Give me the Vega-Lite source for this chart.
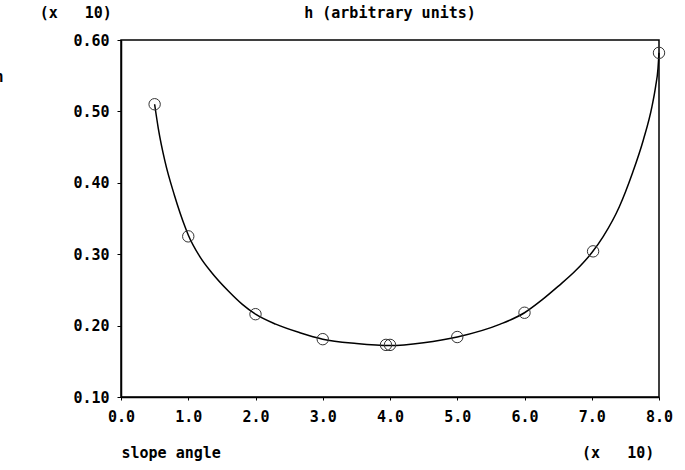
{
  "$schema": "https://vega.github.io/schema/vega-lite/v6.json",
  "width": 538,
  "height": 357,
  "autosize": {"type": "none"},
  "padding": {"left": 121, "top": 40, "right": 26, "bottom": 73},
  "background": "white",
  "config": {
    "font": "DejaVu Sans Mono",
    "view": {"stroke": "black", "strokeWidth": 1.5},
    "axis": {
      "grid": false,
      "domainColor": "black",
      "domainWidth": 1.5,
      "tickColor": "black",
      "tickWidth": 1,
      "labelFont": "DejaVu Sans Mono",
      "labelFontWeight": "bold",
      "labelFontSize": 15,
      "labelColor": "black",
      "titleFont": "DejaVu Sans Mono",
      "titleFontWeight": "bold",
      "titleFontSize": 15,
      "titleColor": "black"
    }
  },
  "title": {
    "text": "h (arbitrary units)",
    "anchor": "middle",
    "frame": "group",
    "font": "DejaVu Sans Mono",
    "fontSize": 15,
    "fontWeight": "bold",
    "color": "black",
    "offset": -16
  },
  "datasets": {
    "points": [
      {"angle": 0.5, "h": 0.51},
      {"angle": 1.0, "h": 0.325},
      {"angle": 2.0, "h": 0.216},
      {"angle": 3.0, "h": 0.181},
      {"angle": 3.94, "h": 0.173},
      {"angle": 4.0, "h": 0.173},
      {"angle": 5.0, "h": 0.184},
      {"angle": 6.0, "h": 0.218},
      {"angle": 7.02, "h": 0.304},
      {"angle": 8.0, "h": 0.582}
    ],
    "curve": [
      {"angle": 0.5, "h": 0.51},
      {"angle": 0.555, "h": 0.476},
      {"angle": 0.654, "h": 0.43},
      {"angle": 0.793, "h": 0.383},
      {"angle": 0.962, "h": 0.336},
      {"angle": 1.0, "h": 0.327},
      {"angle": 1.17, "h": 0.297},
      {"angle": 1.35, "h": 0.274},
      {"angle": 1.6, "h": 0.248},
      {"angle": 1.8, "h": 0.23},
      {"angle": 2.0, "h": 0.216},
      {"angle": 2.3, "h": 0.202},
      {"angle": 2.66, "h": 0.19},
      {"angle": 3.0, "h": 0.181},
      {"angle": 3.5, "h": 0.175},
      {"angle": 4.0, "h": 0.172},
      {"angle": 4.5, "h": 0.176},
      {"angle": 5.0, "h": 0.184},
      {"angle": 5.64, "h": 0.202},
      {"angle": 6.0, "h": 0.218},
      {"angle": 6.26, "h": 0.236},
      {"angle": 6.5, "h": 0.255},
      {"angle": 6.75, "h": 0.276},
      {"angle": 7.0, "h": 0.302},
      {"angle": 7.172, "h": 0.325},
      {"angle": 7.41, "h": 0.3665},
      {"angle": 7.603, "h": 0.413},
      {"angle": 7.767, "h": 0.46},
      {"angle": 7.896, "h": 0.507},
      {"angle": 7.95, "h": 0.535},
      {"angle": 7.985, "h": 0.56},
      {"angle": 8.0, "h": 0.582}
    ]
  },
  "layer": [
    {
      "data": {"name": "curve"},
      "mark": {"type": "line", "color": "black", "strokeWidth": 1.5, "interpolate": "monotone"},
      "encoding": {
        "x": {
          "field": "angle", "type": "quantitative",
          "scale": {"domain": [0, 8], "nice": false, "zero": false},
          "axis": {
            "values": [0, 1, 2, 3, 4, 5, 6, 7, 8],
            "format": ".1f",
            "tickSize": 3,
            "labelPadding": 9,
            "labelFlush": false,
            "title": "slope angle\u00a0\u00a0\u00a0\u00a0\u00a0\u00a0\u00a0\u00a0\u00a0\u00a0\u00a0\u00a0\u00a0\u00a0\u00a0\u00a0\u00a0\u00a0\u00a0\u00a0\u00a0\u00a0\u00a0\u00a0\u00a0\u00a0\u00a0\u00a0\u00a0\u00a0\u00a0\u00a0\u00a0\u00a0\u00a0\u00a0\u00a0\u00a0\u00a0\u00a0(x\u00a0\u00a0\u00a010)",
            "titleAnchor": "start",
            "titleAlign": "left",
            "titlePadding": 21
          }
        },
        "y": {
          "field": "h", "type": "quantitative",
          "scale": {"domain": [0.1, 0.6], "nice": false, "zero": false},
          "axis": {
            "values": [0.1, 0.2, 0.3, 0.4, 0.5, 0.6],
            "format": ".2f",
            "tickSize": 4,
            "labelPadding": 8,
            "labelFlush": false,
            "title": ["\u200b\u00a0\u00a0\u00a0\u00a0\u00a0(x\u00a0\u00a0\u00a010)", "h"],
            "titleAngle": 0,
            "titleAlign": "left",
            "titleBaseline": "top",
            "titleX": -127,
            "titleY": -35,
            "titleLineHeight": 64
          }
        }
      }
    },
    {
      "data": {"name": "points"},
      "mark": {"type": "point", "shape": "circle", "filled": false, "size": 130, "stroke": "#333333", "strokeWidth": 1, "opacity": 1},
      "encoding": {
        "x": {"field": "angle", "type": "quantitative"},
        "y": {"field": "h", "type": "quantitative"}
      }
    }
  ]
}
